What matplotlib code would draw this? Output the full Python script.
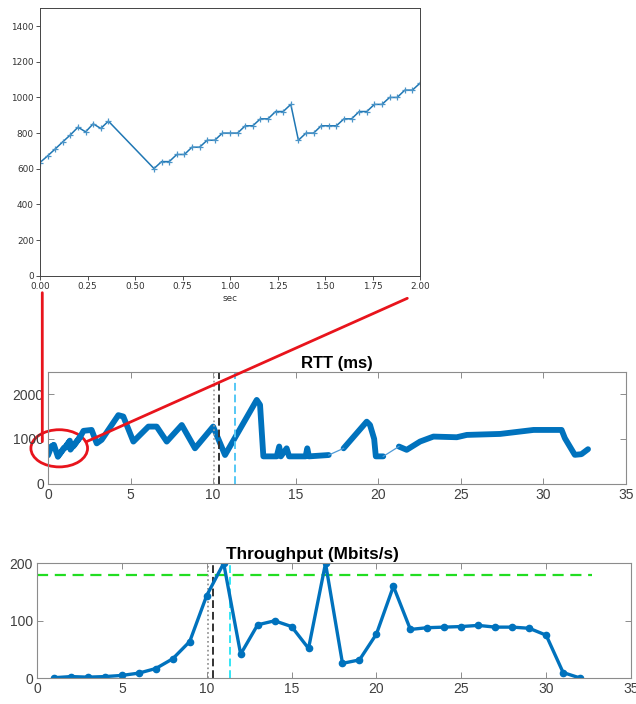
import matplotlib
matplotlib.use("Agg")
import matplotlib.pyplot as plt
from matplotlib.patches import Ellipse, ConnectionPatch
import numpy as np

# zoomed view of the first two seconds of RTT (ms)
zoom_t = [0.00, 0.04, 0.08, 0.12, 0.16, 0.20, 0.24, 0.28, 0.32, 0.36,
          0.60, 0.64, 0.68, 0.72, 0.76, 0.80, 0.84, 0.88, 0.92, 0.96,
          1.00, 1.04, 1.08, 1.12, 1.16, 1.20, 1.24, 1.28, 1.32, 1.36,
          1.40, 1.44, 1.48, 1.52, 1.56, 1.60, 1.64, 1.68, 1.72, 1.76,
          1.80, 1.84, 1.88, 1.92, 1.96, 2.00]
zoom_rtt = [635, 672, 711, 751, 790, 833, 807, 852, 826, 867,
            601, 640, 640, 680, 680, 721, 721, 760, 760, 800,
            800, 800, 841, 841, 880, 880, 921, 921, 961, 760,
            800, 800, 841, 841, 841, 880, 880, 921, 921, 961,
            961, 1000, 1000, 1041, 1041, 1080]

# full RTT trace, three continuous pieces (after the first 2 s)
rtt1_t = [2.15, 2.64, 2.95, 3.25, 4.26, 4.56, 5.17, 6.08, 6.58, 7.19,
          8.10, 8.90, 10.0, 10.72, 12.64, 12.84, 13.04, 13.85, 14.0, 14.1,
          14.45, 14.6, 15.6, 15.7, 15.8, 17.0]
rtt1_v = [1180, 1200, 900, 980, 1530, 1500, 940, 1275, 1275, 940,
          1310, 790, 1275, 640, 1870, 1760, 610, 610, 830, 610,
          790, 610, 610, 790, 610, 640]
rtt2_t = [17.9, 19.3, 19.5, 19.75, 19.85, 20.3]
rtt2_v = [790, 1385, 1310, 1000, 610, 610]
rtt3_t = [21.25, 21.72, 22.53, 23.34, 24.75, 25.36, 27.38, 29.4, 31.1, 31.3,
          31.9, 32.3, 32.7]
rtt3_v = [830, 756, 941, 1052, 1037, 1089, 1111, 1200, 1200, 1015,
          644, 659, 770]

# throughput per second
thr_t = list(range(1, 33))
thr_v = [1, 3, 2, 3, 5, 9, 17, 34, 64, 144,
         200, 42, 93, 100, 90, 52, 200, 26, 32, 77,
         160, 85, 88, 89, 90, 92, 89, 89, 87, 75,
         10, 0.5]
thr_limit = 180
t_event_a = 10.05
t_event_b = 10.38
t_event_c = 11.35

blue = "#0072BD"
W, H = 636, 704
fig = plt.figure(figsize=(W / 100, H / 100), dpi=100)


def box(l, r, t, b):
    return [l / W, 1 - b / H, (r - l) / W, (b - t) / H]


# ---- top: matplotlib style zoom ----
ax0 = fig.add_axes(box(40, 420, 8.3, 275.7))
ax0.plot(zoom_t, zoom_rtt, color="#1f77b4", lw=1.1, marker="+", ms=5, mew=0.9,
         mec="#4a94c8")
ax0.set_xlim(0, 2)
ax0.set_ylim(0, 1500)
ax0.set_xticks(np.arange(0, 2.01, 0.25))
ax0.set_yticks(range(0, 1401, 200))
ax0.tick_params(labelsize=6.4, length=3, width=0.6, colors="#333333", pad=1.5)
ax0.set_xlabel("sec", fontsize=6.4, color="#333333", labelpad=2)
for s in ax0.spines.values():
    s.set_linewidth(0.7)
    s.set_color("#444444")


def matlab_axes(ax):
    for s in ax.spines.values():
        s.set_color("#8c8c8c")
        s.set_linewidth(0.8)
    ax.tick_params(direction="in", length=4, width=0.7, color="#8c8c8c",
                   top=True, right=True, labelsize=10, labelcolor="#404040",
                   pad=3)
    for lab in ax.get_xticklabels() + ax.get_yticklabels():
        lab.set_family(["Liberation Sans", "DejaVu Sans"])


# ---- middle: RTT ----
ax1 = fig.add_axes(box(48, 626, 371.7, 483.7))
pieces = [(zoom_t + rtt1_t, zoom_rtt + rtt1_v), (rtt2_t, rtt2_v), (rtt3_t, rtt3_v)]
for i, (t, v) in enumerate(pieces):
    ax1.plot(t, v, color=blue, lw=4.2, solid_capstyle="round", solid_joinstyle="round")
    if i > 0:
        pt, pv = pieces[i - 1]
        ax1.plot([pt[-1], t[0]], [pv[-1], v[0]], color="#4f9ad6", lw=0.9)
ax1.axvline(t_event_a, color="#9a9a9a", ls=":", lw=1.2)
ax1.axvline(t_event_b, color="#333333", ls="--", lw=1.4, dashes=(4, 2))
ax1.axvline(t_event_c, color="#55c8f5", ls="--", lw=1.4, dashes=(4, 2))
ax1.set_xlim(0, 35)
ax1.set_ylim(0, 2500)
ax1.set_xticks(range(0, 36, 5))
ax1.set_yticks([0, 1000, 2000])
matlab_axes(ax1)
ax1.set_title("RTT (ms)", fontsize=12, fontweight="bold",
              family=["Liberation Sans", "DejaVu Sans"], pad=3)

# ---- bottom: throughput ----
ax2 = fig.add_axes(box(37, 631, 563.3, 678.3))
ax2.plot([0, 32.7], [thr_limit, thr_limit], color="#22dd22", ls="--", lw=1.6,
         dashes=(5, 3))
ax2.axvline(t_event_a, color="#8a8a8a", ls=":", lw=1.2)
ax2.axvline(t_event_b, color="#333333", ls="--", lw=1.4, dashes=(4, 2))
ax2.axvline(t_event_c, color="#33e6f5", ls="--", lw=1.4, dashes=(4, 2))
ax2.plot(thr_t, thr_v, color=blue, lw=2.4, marker="o", ms=4.5)
ax2.set_xlim(0, 35)
ax2.set_ylim(0, 200)
ax2.set_xticks(range(0, 36, 5))
ax2.set_yticks([0, 100, 200])
matlab_axes(ax2)
ax2.set_title("Throughput (Mbits/s)", fontsize=12.4, fontweight="bold",
              family=["Liberation Sans", "DejaVu Sans"], x=0.463, pad=3)

# ---- red zoom annotation ----
ell = Ellipse((0.68, 790), 3.43, 830, transform=ax1.transData, fill=False,
              ec="#e8141c", lw=2, clip_on=False)
ax1.add_patch(ell)
for xa, ya, xb, yb in [(0.006, -0.0636, -0.345, 940), (0.9666, -0.0845, 2.34, 940)]:
    cp = ConnectionPatch(xyA=(xa, ya), coordsA=ax0.transAxes,
                         xyB=(xb, yb), coordsB=ax1.transData,
                         color="#e8141c", lw=2)
    fig.add_artist(cp)

fig.savefig("out.png", dpi=100)
